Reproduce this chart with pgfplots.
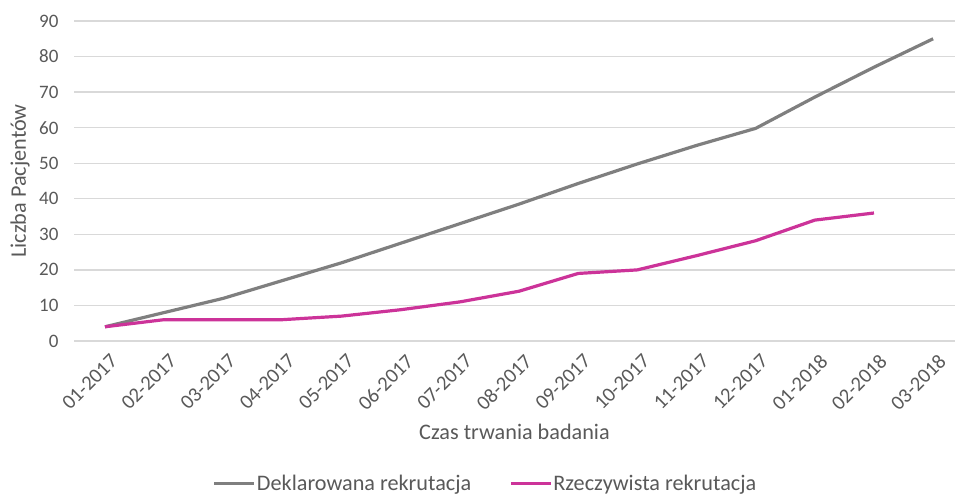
\documentclass[border=0pt]{standalone}
\usepackage{fontspec}
\setmainfont{Carlito}
\usepackage{pgfplots}
\pgfplotsset{compat=1.18}
\definecolor{txtgray}{HTML}{595959}
\definecolor{gridgray}{HTML}{D9D9D9}
\definecolor{decl}{HTML}{7F7F7F}
\definecolor{rzecz}{HTML}{CC3399}
\begin{document}
\begin{tikzpicture}
\path[use as bounding box] (0bp,0bp) rectangle (955bp,494bp);
\begin{axis}[
  at={(74bp,153bp)}, anchor=south west,
  scale only axis, width=881bp, height=320bp,
  xmin=-0.524, xmax=14.37, ymin=0, ymax=90,
  ytick={0,10,...,90},
  xtick={0,...,14},
  xticklabels={01-2017,02-2017,03-2017,04-2017,05-2017,06-2017,07-2017,08-2017,09-2017,10-2017,11-2017,12-2017,01-2018,02-2018,03-2018},
  axis line style={draw=none},
  major tick length=0pt,
  ymajorgrids, grid style={gridgray, line width=1.3bp},
  tick label style={font=\fontsize{19bp}{22bp}\selectfont, text=txtgray},
  /pgf/number format/assume math mode=true,
  yticklabel style={xshift=-12bp},
  xticklabel style={rotate=45, anchor=north east, font=\fontsize{20.5bp}{23bp}\selectfont, xshift=-2bp, yshift=-8bp},
  xlabel={Czas trwania badania},
  ylabel={Liczba Pacjentów},
  label style={font=\fontsize{22.2bp}{25bp}\selectfont, text=txtgray},
  x label style={at={(axis description cs:0.5,-0.284)}, anchor=center},
  y label style={at={(axis description cs:-0.0613,0.5)}, anchor=center},
  legend columns=2,
  legend style={at={(axis description cs:0.4665,-0.445)}, anchor=center, draw=none, fill=none,
    font=\fontsize{22.2bp}{25bp}\selectfont, text=txtgray,
    nodes={inner sep=1bp},
    /tikz/every even column/.append style={column sep=37bp}},
  legend cell align=left,
  legend image code/.code={\draw[#1] (0bp,0bp) -- (40bp,0bp);},
]
\addplot[decl, line width=3.2bp, line join=round] coordinates {
 (0,4) (1,8) (2,12) (3,17) (4,22) (5,27.5) (6,33) (7,38.5) (8,44.3) (9,49.8) (10,55) (11,59.8) (12,68.6) (13,77) (14,85)};
\addlegendentry{Deklarowana rekrutacja}
\addplot[rzecz, line width=3.2bp, line join=round] coordinates {
 (0,4) (1,6) (2,6) (3,6) (4,7) (5,8.8) (6,11) (7,14) (8,19) (9,20) (10,24) (11,28.2) (12,34) (13,36)};
\addlegendentry{Rzeczywista rekrutacja}
\end{axis}
\end{tikzpicture}
\end{document}
